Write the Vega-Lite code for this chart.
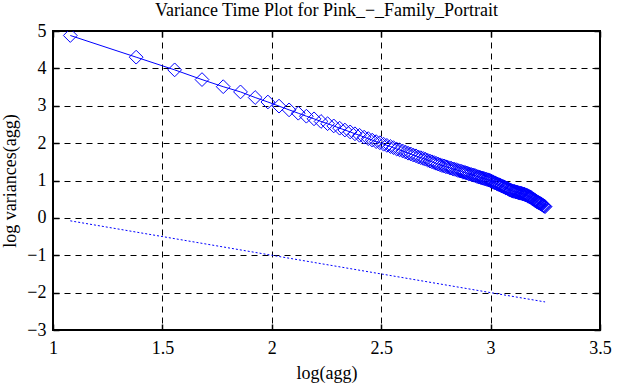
{
  "$schema": "https://vega.github.io/schema/vega-lite/v6.json",
  "autosize": "none",
  "padding": {"left": 53, "top": 31, "right": 21, "bottom": 55},
  "width": 547,
  "height": 299,
  "background": "white",
  "title": {"text": "Variance Time Plot for Pink_−_Family_Portrait", "font": "Liberation Serif", "fontSize": 18, "fontWeight": "normal", "color": "black", "offset": 2, "anchor": "middle"},
  "config": {
    "font": "Liberation Serif",
    "view": {"stroke": "black", "strokeWidth": 2},
    "axis": {"labelFont": "Liberation Serif", "titleFont": "Liberation Serif", "labelFontSize": 18, "titleFontSize": 18, "titleFontWeight": "normal", "labelColor": "black", "titleColor": "black", "tickColor": "black", "tickWidth": 1.5, "tickSize": -6, "domain": false}
  },
  "datasets": {
    "vt": [
      {"logagg":1.079,"logvar":4.88},{"logagg":1.380,"logvar":4.30},{"logagg":1.556,"logvar":3.96},{"logagg":1.681,"logvar":3.70},{"logagg":1.778,"logvar":3.51},{"logagg":1.857,"logvar":3.37},{"logagg":1.924,"logvar":3.22},{"logagg":1.982,"logvar":3.10},
      {"logagg":2.033,"logvar":2.99},{"logagg":2.079,"logvar":2.89},{"logagg":2.121,"logvar":2.80},{"logagg":2.158,"logvar":2.72},{"logagg":2.193,"logvar":2.65},{"logagg":2.225,"logvar":2.58},{"logagg":2.255,"logvar":2.52},{"logagg":2.283,"logvar":2.46},{"logagg":2.310,"logvar":2.40},{"logagg":2.334,"logvar":2.35},
      {"logagg":2.358,"logvar":2.30},{"logagg":2.380,"logvar":2.25},{"logagg":2.401,"logvar":2.21},{"logagg":2.422,"logvar":2.16},{"logagg":2.441,"logvar":2.12},{"logagg":2.459,"logvar":2.08},{"logagg":2.477,"logvar":2.04},{"logagg":2.494,"logvar":2.01},{"logagg":2.511,"logvar":1.97},{"logagg":2.526,"logvar":1.94},
      {"logagg":2.542,"logvar":1.91},{"logagg":2.556,"logvar":1.88},{"logagg":2.571,"logvar":1.84},{"logagg":2.584,"logvar":1.82},{"logagg":2.598,"logvar":1.79},{"logagg":2.611,"logvar":1.76},{"logagg":2.623,"logvar":1.73},{"logagg":2.635,"logvar":1.71},{"logagg":2.647,"logvar":1.68},{"logagg":2.659,"logvar":1.66},
      {"logagg":2.670,"logvar":1.63},{"logagg":2.681,"logvar":1.61},{"logagg":2.692,"logvar":1.59},{"logagg":2.702,"logvar":1.57},{"logagg":2.713,"logvar":1.54},{"logagg":2.723,"logvar":1.52},{"logagg":2.732,"logvar":1.50},{"logagg":2.742,"logvar":1.48},{"logagg":2.751,"logvar":1.46},{"logagg":2.760,"logvar":1.44},
      {"logagg":2.769,"logvar":1.42},{"logagg":2.778,"logvar":1.40},{"logagg":2.787,"logvar":1.39},{"logagg":2.795,"logvar":1.37},{"logagg":2.803,"logvar":1.36},{"logagg":2.812,"logvar":1.34},{"logagg":2.820,"logvar":1.33},{"logagg":2.827,"logvar":1.31},{"logagg":2.835,"logvar":1.30},{"logagg":2.843,"logvar":1.29},
      {"logagg":2.850,"logvar":1.27},{"logagg":2.857,"logvar":1.26},{"logagg":2.865,"logvar":1.25},{"logagg":2.872,"logvar":1.23},{"logagg":2.879,"logvar":1.22},{"logagg":2.885,"logvar":1.21},{"logagg":2.892,"logvar":1.20},{"logagg":2.899,"logvar":1.18},{"logagg":2.905,"logvar":1.17},{"logagg":2.912,"logvar":1.16},
      {"logagg":2.918,"logvar":1.15},{"logagg":2.924,"logvar":1.14},{"logagg":2.930,"logvar":1.13},{"logagg":2.937,"logvar":1.11},{"logagg":2.943,"logvar":1.10},{"logagg":2.948,"logvar":1.09},{"logagg":2.954,"logvar":1.08},{"logagg":2.960,"logvar":1.07},{"logagg":2.966,"logvar":1.06},{"logagg":2.971,"logvar":1.05},
      {"logagg":2.977,"logvar":1.04},{"logagg":2.982,"logvar":1.03},{"logagg":2.988,"logvar":1.02},{"logagg":2.993,"logvar":1.01},{"logagg":2.998,"logvar":1.00},{"logagg":3.003,"logvar":0.98},{"logagg":3.009,"logvar":0.97},{"logagg":3.014,"logvar":0.95},{"logagg":3.019,"logvar":0.94},{"logagg":3.024,"logvar":0.93},
      {"logagg":3.029,"logvar":0.91},{"logagg":3.033,"logvar":0.90},{"logagg":3.038,"logvar":0.89},{"logagg":3.043,"logvar":0.88},{"logagg":3.048,"logvar":0.86},{"logagg":3.052,"logvar":0.85},{"logagg":3.057,"logvar":0.84},{"logagg":3.061,"logvar":0.83},{"logagg":3.066,"logvar":0.81},{"logagg":3.070,"logvar":0.80},
      {"logagg":3.075,"logvar":0.79},{"logagg":3.079,"logvar":0.78},{"logagg":3.084,"logvar":0.76},{"logagg":3.088,"logvar":0.75},{"logagg":3.092,"logvar":0.74},{"logagg":3.096,"logvar":0.73},{"logagg":3.100,"logvar":0.72},{"logagg":3.104,"logvar":0.71},{"logagg":3.109,"logvar":0.71},{"logagg":3.113,"logvar":0.70},
      {"logagg":3.117,"logvar":0.69},{"logagg":3.121,"logvar":0.69},{"logagg":3.125,"logvar":0.68},{"logagg":3.128,"logvar":0.67},{"logagg":3.132,"logvar":0.67},{"logagg":3.136,"logvar":0.66},{"logagg":3.140,"logvar":0.66},{"logagg":3.144,"logvar":0.65},{"logagg":3.147,"logvar":0.64},{"logagg":3.151,"logvar":0.64},
      {"logagg":3.155,"logvar":0.63},{"logagg":3.158,"logvar":0.62},{"logagg":3.162,"logvar":0.61},{"logagg":3.166,"logvar":0.60},{"logagg":3.169,"logvar":0.59},{"logagg":3.173,"logvar":0.58},{"logagg":3.176,"logvar":0.57},{"logagg":3.180,"logvar":0.56},{"logagg":3.183,"logvar":0.55},{"logagg":3.186,"logvar":0.54},
      {"logagg":3.190,"logvar":0.52},{"logagg":3.193,"logvar":0.51},{"logagg":3.196,"logvar":0.50},{"logagg":3.200,"logvar":0.48},{"logagg":3.203,"logvar":0.47},{"logagg":3.206,"logvar":0.46},{"logagg":3.210,"logvar":0.44},{"logagg":3.213,"logvar":0.43},{"logagg":3.216,"logvar":0.42},{"logagg":3.219,"logvar":0.41},
      {"logagg":3.222,"logvar":0.40},{"logagg":3.225,"logvar":0.39},{"logagg":3.228,"logvar":0.38},{"logagg":3.231,"logvar":0.37},{"logagg":3.234,"logvar":0.36},{"logagg":3.238,"logvar":0.34},{"logagg":3.241,"logvar":0.33},{"logagg":3.244,"logvar":0.32},{"logagg":3.246,"logvar":0.31},{"logagg":3.249,"logvar":0.30}
    ],
    "ref": [
      {"logagg":1.079,"logvar":-0.079},{"logagg":3.249,"logvar":-2.249}
    ]
  },
  "layer": [
    {
      "data": {"name": "vt"},
      "mark": {"type": "line", "color": "#0000ff", "strokeWidth": 1, "clip": true, "point": {"shape": "diamond", "filled": false, "size": 190, "color": "#0000ff", "strokeWidth": 1}},
      "encoding": {
        "x": {"field": "logagg", "type": "quantitative", "scale": {"domain": [1, 3.5], "nice": false, "zero": false},
              "axis": {"orient": "bottom", "title": "log(agg)", "values": [1, 1.5, 2, 2.5, 3, 3.5], "labelExpr": "'' + datum.value", "labelFont": "Liberation Serif", "titleFont": "Liberation Serif", "labelFontSize": 18, "titleFontSize": 18, "labelPadding": 15, "titlePadding": 7, "grid": true, "gridColor": "black", "gridDash": [6, 5], "gridWidth": 1, "gridOpacity": 1, "labelFlush": false}},
        "y": {"field": "logvar", "type": "quantitative", "scale": {"domain": [-3, 5], "nice": false, "zero": false},
              "axis": {"orient": "left", "title": "log variances(agg)", "values": [-3, -2, -1, 0, 1, 2, 3, 4, 5], "labelFont": "Liberation Serif", "titleFont": "Liberation Serif", "labelFontSize": 18, "titleFontSize": 18, "labelPadding": 13, "titlePadding": 7, "grid": true, "gridColor": "black", "gridDash": [6, 5], "gridWidth": 1, "gridOpacity": 1, "labelFlush": false}}
      }
    },
    {
      "data": {"name": "ref"},
      "mark": {"type": "line", "color": "#0000ff", "strokeWidth": 1, "strokeDash": [2, 2]},
      "encoding": {
        "x": {"field": "logagg", "type": "quantitative", "scale": {"domain": [1, 3.5], "nice": false, "zero": false},
              "axis": {"orient": "top", "title": null, "labels": false, "grid": false, "values": [1, 1.5, 2, 2.5, 3, 3.5]}},
        "y": {"field": "logvar", "type": "quantitative", "scale": {"domain": [-3, 5], "nice": false, "zero": false},
              "axis": {"orient": "right", "title": null, "labels": false, "grid": false, "values": [-3, -2, -1, 0, 1, 2, 3, 4, 5]}}
      }
    }
  ],
  "resolve": {"axis": {"x": "independent", "y": "independent"}}
}
